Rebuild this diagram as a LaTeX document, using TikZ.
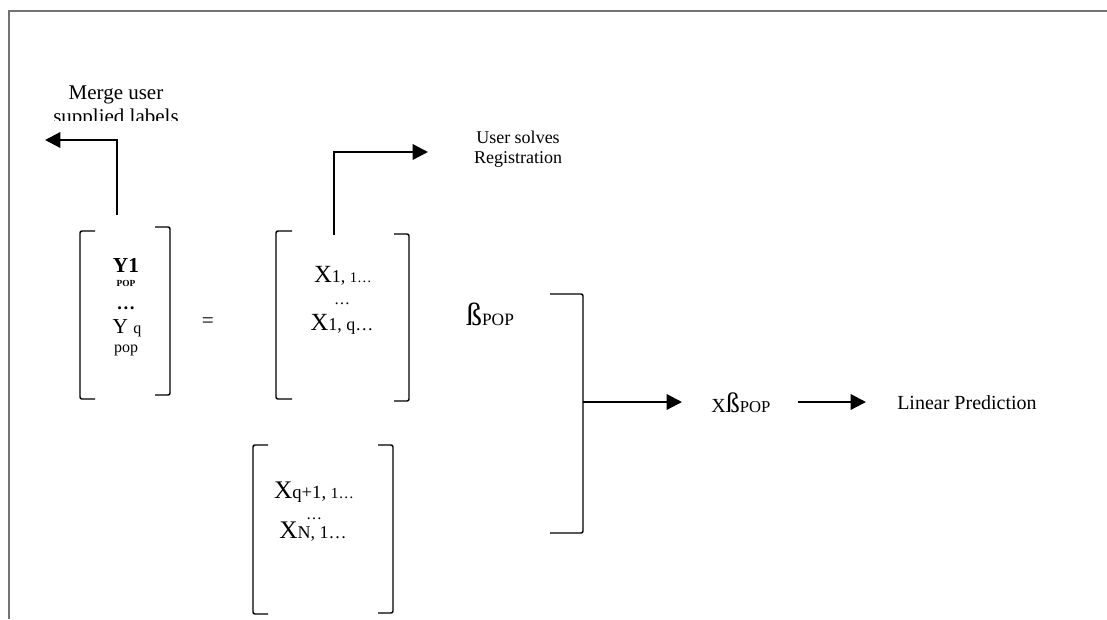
\documentclass[tikz,border=0pt]{standalone}
\usepackage{fontspec}
\setmainfont{Liberation Serif}
\usetikzlibrary{arrows.meta}
\tikzset{
  frame/.style={draw=black!55, line width=1.5pt},
  brk/.style={line width=1.1pt, rounded corners=1.5pt},
  flow/.style={line width=1.7pt, -{Triangle[length=11.5pt,width=11.5pt]}},
  lbl/.style={anchor=base, inner sep=0pt},
}
\newcommand{\fsz}[1]{\fontsize{#1}{#1}\selectfont}

\begin{document}
\begin{tikzpicture}[x=0.75pt,y=-0.75pt]
\useasboundingbox (0,0) rectangle (1107,619);
\fill[white] (0,0) rectangle (1107,619);
\draw[frame] (9,619) -- (9,10.5) -- (1107,10.5);

% label above the left arrow, its second line cut off
\begin{scope}
  \clip (30,40) rectangle (220,120.5);
  \node[lbl] (merge1) at (116,99) {\fsz{15.75}Merge user};
  \node[lbl] (merge2) at (116,123) {\fsz{15.75}supplied labels};
\end{scope}

% Y vector
\draw[brk] (95,231) -- (80,231) -- (80,399) -- (95,399);
\draw[brk] (155,227) -- (170,227) -- (170,395) -- (155,395);
\node[lbl] (y1) at (126,272) {\fsz{16}\textbf{Y1}};
\node[lbl] (y1pop) at (126,286) {\fsz{7}\textbf{POP}};
\node[lbl] (ydots) at (126,309) {\fsz{14}\textbf{…}};
\node[lbl] (yq) at (127,333) {\fsz{16}Y {\fsz{12}q}};
\node[lbl] (yqpop) at (126,352) {\fsz{12}pop};

\node[lbl] (eq) at (208,327) {\fsz{16}=};

% upper X block
\draw[brk] (292,231) -- (276,231) -- (276,399) -- (292,399);
\draw[brk] (394,234) -- (409,234) -- (409,401) -- (394,401);
\node[lbl] (x11) at (343,282) {\fsz{18.5}X{\fsz{13.5}1, {\fsz{11}1…}}};
\node[lbl] (xdots) at (342,304) {\fsz{12}…};
\node[lbl] (x1q) at (342,330) {\fsz{18.5}X{\fsz{13.5}1, q…}};

\node[lbl] (bpop) at (490,325) {\fsz{24}ß{\fsz{13}POP}};

% lower X block
\draw[brk] (268,445) -- (253,445) -- (253,614) -- (268,614);
\draw[brk] (378,445) -- (393,445) -- (393,613) -- (378,613);
\node[lbl] (xq1) at (314,498) {\fsz{19}X{\fsz{14}q+1, {\fsz{11.5}1…}}};
\node[lbl] (xdots2) at (314,519) {\fsz{12}…};
\node[lbl] (xn1) at (313,538) {\fsz{19}X{\fsz{13.5}N, 1…}};

% closing bracket over both blocks
\draw[brk] (550,294) -- (583,294) -- (583,533) -- (550,533);

\node[lbl] (xbpop) at (741,412) {\fsz{15}X{\fsz{21}ß}{\fsz{12.5}POP}};
\node[lbl, anchor=base west] (linpred) at (897,409) {\fsz{15}Linear Prediction};

\node[lbl] (userreg1) at (518,143) {\fsz{13.5}User solves};
\node[lbl] (userreg2) at (518,163) {\fsz{13.5}Registration};

% connectors
\coordinate (yTop) at (117,215);
\coordinate (mergeEnd) at (45,140);
\coordinate (xTop) at (334,235);
\coordinate (regEnd) at (428,152);
\coordinate (braceMid) at (583,402);
\coordinate (xbIn) at (682,402);
\coordinate (xbOut) at (798,402);
\coordinate (predIn) at (866,402);

\draw[flow] (yTop) |- (mergeEnd);
\draw[flow] (xTop) |- (regEnd);
\draw[flow] (braceMid) -- (xbIn);
\draw[flow] (xbOut) -- (predIn);
\end{tikzpicture}
\end{document}
